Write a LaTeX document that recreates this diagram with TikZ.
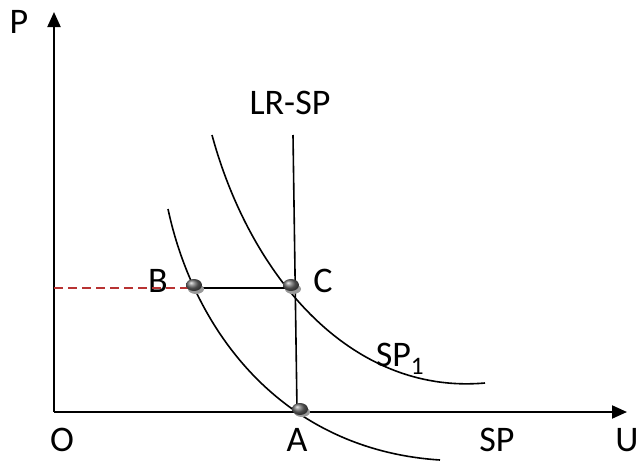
\documentclass[tikz,border=0pt]{standalone}
\usepackage{fontspec}
\setmainfont{Carlito}
\usetikzlibrary{arrows.meta,shapes.geometric}
\tikzset{
  lbl/.style={font=\fontsize{36}{40}\selectfont, inner sep=0pt},
  axis/.style={line width=2pt, -{Triangle[length=15pt,width=13pt]}},
  curve/.style={line width=1.6pt},
  dot/.style={ellipse, minimum width=16pt, minimum height=12pt, inner sep=0pt, ball color=gray!85!black, draw=none},
  shadowdot/.style={ellipse, minimum width=16pt, minimum height=10pt, inner sep=0pt, fill=gray!80, draw=none}
}
\begin{document}
\begin{tikzpicture}[x=1pt,y=-1pt]
\useasboundingbox (0,0) rectangle (638,461);
\coordinate (O) at (54,412);
\coordinate (ytop) at (54,12);
\coordinate (xend) at (627,412);
\draw[axis] (O) -- (ytop);
\draw[axis] (O) -- (xend);
% labels
\node[lbl] (P) at (19,22) {P};
\node[lbl] (Ol) at (62,440) {O};
\node[lbl] (Al) at (297,440) {A};
\node[lbl] (SPl) at (497,440) {SP};
\node[lbl] (Ul) at (627,440) {U};
\node[lbl] (Bl) at (158,281) {B};
\node[lbl] (Cl) at (323,281) {C};
\node[lbl] (LR) at (290,103) {LR-SP};
\node[lbl] (SP1) at (400,359) {SP\textsubscript{1}};
% curves
\coordinate (sp0) at (168,209);
\coordinate (sp3) at (440,460);
\draw[curve] (sp0) .. controls (195,335) and (285,450) .. (sp3);
\coordinate (sq0) at (212,135);
\coordinate (sq3) at (485,383);
\draw[curve] (sq0) .. controls (250,275) and (350,395) .. (sq3);
% LR-SP line
\coordinate (lrtop) at (293,135);
\coordinate (lrbot) at (297,410);
\draw[curve] (lrtop) -- (lrbot);
% points
\coordinate (B) at (195,288);
\coordinate (C) at (291,288);
\coordinate (yB) at (54,288);
\draw[red!65!black!80, line width=1.5pt, dash pattern=on 9pt off 5pt] (yB) -- (B);
\draw[curve] (B) -- (C);
\node[shadowdot] (Bs) at (196,289) {};
\node[dot] (Bd) at (194,285) {};
\node[shadowdot] (Cs) at (293,289) {};
\node[dot] (Cd) at (291,285) {};
\node[shadowdot] (As) at (302,412) {};
\node[dot] (Ad) at (300,409) {};
\end{tikzpicture}
\end{document}
